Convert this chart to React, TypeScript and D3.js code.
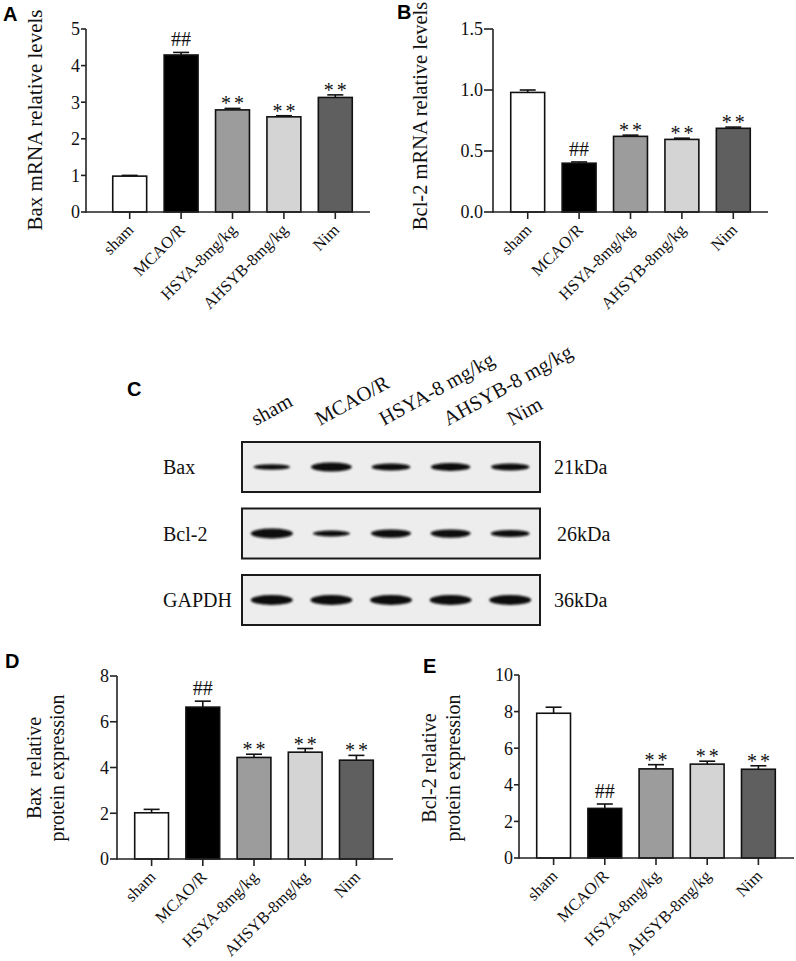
import React, {useEffect, useRef} from "react";
import * as d3 from "d3";

// groups and bar fills shared by all four bar charts
const groups = ["sham", "MCAO/R", "HSYA-8mg/kg", "AHSYB-8mg/kg", "Nim"];
const barFills = ["#ffffff", "#000000", "#9c9c9c", "#d4d4d4", "#5f5f5f"];
const marks = ["", "##", "**", "**", "**"];

// A: Bax mRNA
const baxMrna = [0.98, 4.29, 2.79, 2.60, 3.13];
const baxMrnaErr = [0.02, 0.07, 0.04, 0.03, 0.07];
const baxMrnaTicks = [0, 1, 2, 3, 4, 5];

// B: Bcl-2 mRNA
const bcl2Mrna = [0.98, 0.40, 0.62, 0.595, 0.686];
const bcl2MrnaErr = [0.02, 0.01, 0.01, 0.01, 0.01];
const bcl2MrnaTicks = [0, 0.5, 1.0, 1.5];

// D: Bax protein
const baxProtein = [2.02, 6.64, 4.44, 4.67, 4.32];
const baxProteinErr = [0.15, 0.26, 0.14, 0.16, 0.21];
const baxProteinTicks = [0, 2, 4, 6, 8];

// E: Bcl-2 protein
const bcl2Protein = [7.91, 2.71, 4.87, 5.13, 4.85];
const bcl2ProteinErr = [0.33, 0.24, 0.23, 0.16, 0.19];
const bcl2ProteinTicks = [0, 2, 4, 6, 8, 10];

// C: western blot
const laneLabels = ["sham", "MCAO/R", "HSYA-8 mg/kg", "AHSYB-8 mg/kg", "Nim"];
const blotRows = ["Bax", "Bcl-2", "GAPDH"];
const blotSizes = ["21kDa", "26kDa", "36kDa"];
const baxBand = [0.35, 0.85, 0.6, 0.7, 0.55];
const bcl2Band = [1.0, 0.4, 0.75, 0.75, 0.6];
const gapdhBand = [1.0, 1.0, 1.0, 1.0, 1.0];

const SERIF = "'Liberation Serif', 'Times New Roman', serif";
const SANS = "'Liberation Sans', Arial, sans-serif";

interface PanelSpec {
    letter: string;
    letterPos: [number, number];
    axisX: number;
    yTop: number;
    yBot: number;
    xEnd: number;
    band: [number, number];
    tickLen: number;
    ticks: number[];
    fmt: (v: number) => string;
    values: number[];
    errors: number[];
    label: string[];
    labelX: number[];
    labelY: number;
    labelSize: number;
}

const panels: PanelSpec[] = [
    {letter: "A", letterPos: [3, 21], axisX: 86, yTop: 29, yBot: 212, xEnd: 370, band: [104, 361], tickLen: 5,
        ticks: baxMrnaTicks, fmt: d3.format("d"), values: baxMrna, errors: baxMrnaErr,
        label: ["Bax mRNA relative levels"], labelX: [35], labelY: 120, labelSize: 21},
    {letter: "B", letterPos: [397, 19], axisX: 493, yTop: 29, yBot: 212, xEnd: 768, band: [502, 759], tickLen: 9,
        ticks: bcl2MrnaTicks, fmt: d3.format(".1f"), values: bcl2Mrna, errors: bcl2MrnaErr,
        label: ["Bcl-2 mRNA relative levels"], labelX: [420], labelY: 116, labelSize: 20.5},
    {letter: "D", letterPos: [5, 668], axisX: 117, yTop: 676, yBot: 859, xEnd: 393, band: [126, 382], tickLen: 7,
        ticks: baxProteinTicks, fmt: d3.format("d"), values: baxProtein, errors: baxProteinErr,
        label: ["Bax  relative", "protein expression"], labelX: [34, 57], labelY: 768, labelSize: 20},
    {letter: "E", letterPos: [423, 673], axisX: 519, yTop: 675, yBot: 858, xEnd: 794, band: [528, 784], tickLen: 5,
        ticks: bcl2ProteinTicks, fmt: d3.format("d"), values: bcl2Protein, errors: bcl2ProteinErr,
        label: ["Bcl-2 relative", "protein expression"], labelX: [429, 453], labelY: 768, labelSize: 20},
];

function drawBars(root: any, p: PanelSpec) {
    const g = root.append("g");
    const x = d3.scaleBand<string>().domain(groups).range(p.band).paddingInner(0.34).paddingOuter(0.17);
    const y = d3.scaleLinear().domain([0, p.ticks[p.ticks.length - 1]]).range([p.yBot, p.yTop]);

    // bars
    g.selectAll("rect.bar").data(groups).enter().append("rect")
        .attr("x", (d: string) => x(d)!)
        .attr("y", (_: string, i: number) => y(p.values[i]))
        .attr("width", x.bandwidth())
        .attr("height", (_: string, i: number) => p.yBot - y(p.values[i]))
        .attr("fill", (_: string, i: number) => barFills[i])
        .attr("stroke", "#111").attr("stroke-width", 1.6);

    // error bars (upper only)
    groups.forEach((d, i) => {
        const cx = x(d)! + x.bandwidth() / 2;
        const top = y(p.values[i] + p.errors[i]);
        g.append("line").attr("x1", cx).attr("x2", cx)
            .attr("y1", y(p.values[i])).attr("y2", top)
            .attr("stroke", "#111").attr("stroke-width", 1.6);
        g.append("line").attr("x1", cx - 8).attr("x2", cx + 8)
            .attr("y1", top).attr("y2", top)
            .attr("stroke", "#111").attr("stroke-width", 1.6);
        if (marks[i]) {
            const isHash = marks[i] === "##";
            g.append("text").attr("x", cx + (isHash ? 0 : 1.5)).attr("y", isHash ? top - 6 : top + 2)
                .attr("text-anchor", "middle")
                .attr("font-family", SERIF).attr("font-size", 20)
                .attr("letter-spacing", isHash ? 0 : 3)
                .attr("fill", "#111")
                .text(marks[i]);
        }
    });

    // y axis
    g.append("line").attr("x1", p.axisX).attr("x2", p.axisX)
        .attr("y1", p.yTop).attr("y2", p.yBot + 0.8)
        .attr("stroke", "#222").attr("stroke-width", 1.6);
    p.ticks.forEach(t => {
        g.append("line").attr("x1", p.axisX - p.tickLen).attr("x2", p.axisX)
            .attr("y1", y(t)).attr("y2", y(t))
            .attr("stroke", "#222").attr("stroke-width", 1.6);
        g.append("text").attr("x", p.axisX - p.tickLen - 1).attr("y", y(t))
            .attr("dy", "0.35em").attr("text-anchor", "end")
            .attr("font-family", SERIF).attr("font-size", 18).attr("fill", "#111")
            .text(p.fmt(t));
    });

    // x axis
    g.append("line").attr("x1", p.axisX).attr("x2", p.xEnd)
        .attr("y1", p.yBot).attr("y2", p.yBot)
        .attr("stroke", "#222").attr("stroke-width", 1.6);
    groups.forEach(d => {
        const cx = x(d)! + x.bandwidth() / 2;
        g.append("line").attr("x1", cx).attr("x2", cx)
            .attr("y1", p.yBot).attr("y2", p.yBot + 7)
            .attr("stroke", "#222").attr("stroke-width", 1.6);
        g.append("text")
            .attr("transform", `translate(${cx + 5},${p.yBot + 19}) rotate(-45)`)
            .attr("text-anchor", "end")
            .attr("font-family", SERIF).attr("font-size", 16.5).attr("fill", "#111")
            .text(d);
    });

    // y label
    p.label.forEach((line, i) => {
        g.append("text")
            .attr("transform", `translate(${p.labelX[i]},${p.labelY}) rotate(-90)`)
            .attr("text-anchor", "middle").attr("dominant-baseline", "central")
            .attr("font-family", SERIF).attr("font-size", p.labelSize).attr("fill", "#111")
            .style("white-space", "pre")
            .text(line);
    });

    root.append("text").attr("x", p.letterPos[0]).attr("y", p.letterPos[1])
        .attr("font-family", SANS).attr("font-weight", "bold").attr("font-size", 20)
        .attr("fill", "#000").text(p.letter);
}

function drawBlot(root: any) {
    const g = root.append("g");
    const boxLeft = 242, boxRight = 540;
    const rowY = d3.scalePoint<string>().domain(blotRows).range([467, 600]);
    const lane = d3.scaleBand<string>().domain(laneLabels).range([boxLeft, boxRight]);
    const labelX = d3.scalePoint<string>().domain(laneLabels).range([256, 512]);
    const bands = [baxBand, bcl2Band, gapdhBand];

    const defs = root.append("defs");
    defs.append("filter").attr("id", "blur").attr("x", "-20%").attr("y", "-100%")
        .attr("width", "140%").attr("height", "300%")
        .append("feGaussianBlur").attr("stdDeviation", "1.2 0.9");

    blotRows.forEach((row, r) => {
        const cy = rowY(row)!;
        g.append("rect").attr("x", boxLeft).attr("y", cy - 25)
            .attr("width", boxRight - boxLeft).attr("height", 50)
            .attr("fill", "#ededed").attr("stroke", "#1a1a1a").attr("stroke-width", 2);
        laneLabels.forEach((l, i) => {
            const k = bands[r][i];
            const cx = lane(l)! + lane.bandwidth() / 2;
            const w = 34 + 8 * k, h = 3 + 7 * k;
            g.append("ellipse").attr("cx", cx).attr("cy", cy)
                .attr("rx", w / 2).attr("ry", h / 2)
                .attr("fill", "#0d0d0d").attr("filter", "url(#blur)");
        });
        g.append("text").attr("x", 163).attr("y", cy + 7)
            .attr("font-family", SERIF).attr("font-size", 20).attr("fill", "#111")
            .text(row);
        g.append("text").attr("x", r === 1 ? 557 : 554).attr("y", cy + 7)
            .attr("font-family", SERIF).attr("font-size", 20).attr("fill", "#111")
            .text(blotSizes[r]);
    });

    laneLabels.forEach(l => {
        g.append("text")
            .attr("transform", `translate(${labelX(l)},${426}) rotate(-29)`)
            .attr("font-family", SERIF).attr("font-size", 20.5).attr("fill", "#111")
            .text(l);
    });

    root.append("text").attr("x", 127).attr("y", 396)
        .attr("font-family", SANS).attr("font-weight", "bold").attr("font-size", 20)
        .attr("fill", "#000").text("C");
}

export default function App() {
    const ref = useRef<SVGSVGElement>(null);
    useEffect(() => {
        const svg: any = d3.select(ref.current);
        svg.selectAll("*").remove();
        svg.append("rect").attr("width", 796).attr("height", 961).attr("fill", "#fff");
        panels.forEach(p => drawBars(svg, p));
        drawBlot(svg);
    }, []);
    return (
        <svg ref={ref} width={796} height={961}
             style={{position: "absolute", left: 0, top: 0, display: "block"}}/>
    );
}
